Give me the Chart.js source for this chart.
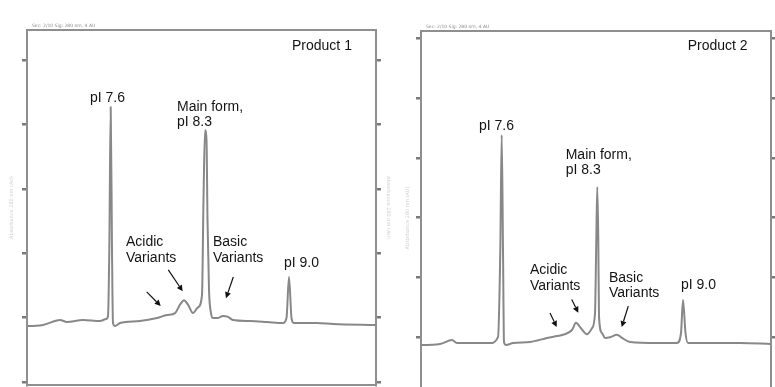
<!DOCTYPE html>
<html>
<head>
<meta charset="utf-8">
<script src="https://cdn.jsdelivr.net/npm/chart.js@4/dist/chart.umd.min.js"></script>
<style>
  html, body { margin: 0; padding: 0; background: #fff; overflow: hidden; width: 775px; height: 387px; }
  .panel { position: absolute; top: 0; }
  #panel1 { left: 0; }
  #panel2 { left: 398px; }
</style>
</head>
<body>
<div class="panel" id="panel1"><canvas id="c1" width="398" height="387"></canvas></div>
<div class="panel" id="panel2"><canvas id="c2" width="377" height="420"></canvas></div>
<script>
// Product 1 trace: position along the capillary and absorbance signal
const p1Pos = [0, 1, 16, 33, 40, 56, 73, 79, 81, 82.3,
  83.7, 85, 86, 88, 93, 113, 130, 140, 148, 153,
  157, 161, 166, 171, 175, 176.5, 178, 179.5, 180.5, 182,
  184, 186, 191, 196, 201, 206, 223, 240, 256, 259.5,
  262, 264.5, 267, 290, 306, 349];
const p1Abs = [8.7, 8.7, 8.85, 9.63, 9.32, 9.63, 9.47, 9.78, 10.25, 20.5,
  42.7, 20.5, 9.16, 8.7, 9.16, 9.47, 9.94, 10.4, 10.7, 12.0,
  12.7, 12.0, 10.7, 11.6, 13.5, 28.3, 39.1, 37.6, 25.2, 14.3,
  10.7, 9.94, 9.94, 10.25, 10.1, 9.63, 9.47, 9.32, 9.16, 9.94,
  16.3, 9.94, 9.16, 9.16, 9.0, 8.85];

// Product 2 trace
const p2Pos = [0, 1, 19, 31, 36, 56, 69, 77, 79.3, 80.7,
  82, 83, 85, 92, 109, 126, 136, 142, 151, 155,
  160, 166, 171, 174, 175.3, 176.3, 177.3, 178, 181, 184,
  189, 196, 201, 209, 236, 256, 260, 262, 264.5, 267,
  286, 319, 350];
const p2Abs = [8.7, 8.7, 8.86, 9.53, 9.03, 9.03, 9.03, 10.0, 24.6, 43.8,
  24.6, 9.2, 8.7, 9.03, 9.2, 9.87, 10.2, 10.4, 11.2, 12.4,
  11.5, 10.5, 11.5, 14.0, 26.3, 35.1, 26.3, 13.4, 10.7, 9.87,
  10.0, 10.4, 9.87, 9.2, 9.03, 9.03, 10.7, 16.2, 10.7, 9.03,
  9.03, 9.03, 8.86];

// Signal axis tick values
const p1Ticks = [0, 10, 20, 30, 40, 50];
const p2Ticks = [0, 10, 20, 30, 40, 50, 60];

// Peak callouts (anchored in data units)
const p1Labels = [
  { lines: ['Product 1'], pos: 265, abs: 52.2 },
  { lines: ['pI 7.6'], pos: 63, abs: 44.1 },
  { lines: ['Main form,', 'pI 8.3'], pos: 150, abs: 42.7 },
  { lines: ['Acidic', 'Variants'], pos: 99, abs: 21.7 },
  { lines: ['Basic', 'Variants'], pos: 186, abs: 21.7 },
  { lines: ['pI 9.0'], pos: 257, abs: 18.5 }
];
const p2Labels = [
  { lines: ['Product 2'], pos: 266.7, abs: 58.7 },
  { lines: ['pI 7.6'], pos: 58, abs: 45.3 },
  { lines: ['Main form,', 'pI 8.3'], pos: 144.7, abs: 40.5 },
  { lines: ['Acidic', 'Variants'], pos: 109, abs: 21.2 },
  { lines: ['Basic', 'Variants'], pos: 188, abs: 19.9 },
  { lines: ['pI 9.0'], pos: 260, abs: 18.7 }
];
// Arrows: [fromPos, fromAbs, toPos, toAbs]
const p1Arrows = [[119.7, 14.0, 133.7, 11.8], [141.3, 17.4, 155.7, 14.1], [206.3, 16.3, 199, 13.0]];
const p2Arrows = [[129, 14.05, 135.7, 11.7], [150.7, 16.3, 157.3, 14.1], [207.3, 15.2, 200.7, 11.7]];

const FRAME = '#8f8f8f';
const TRACE = '#888888';
const TEXT_FONT = '14px "Liberation Sans", Arial, sans-serif';

const annotate = {
  id: 'annotate',
  afterDatasetsDraw(chart, args, opts) {
    const { ctx, chartArea } = chart;
    const x = chart.scales.x, y = chart.scales.y;
    ctx.save();
    // small instrument header above the frame
    ctx.fillStyle = '#8a8a8a';
    ctx.font = '4.5px "DejaVu Sans", sans-serif';
    ctx.textBaseline = 'alphabetic';
    ctx.fillText(opts.header, chartArea.left + 5, chartArea.top - 3);

    ctx.fillStyle = '#141414';
    ctx.font = TEXT_FONT;
    ctx.textBaseline = 'middle';
    ctx.textAlign = 'left';
    opts.labels.forEach(l => {
      const px = x.getPixelForValue(l.pos), py = y.getPixelForValue(l.abs);
      l.lines.forEach((t, i) => ctx.fillText(t, px, py + i * 15.5));
    });

    ctx.strokeStyle = '#111';
    ctx.lineWidth = 1.2;
    opts.arrows.forEach(a => {
      const x1 = x.getPixelForValue(a[0]), y1 = y.getPixelForValue(a[1]);
      const x2 = x.getPixelForValue(a[2]), y2 = y.getPixelForValue(a[3]);
      const ang = Math.atan2(y2 - y1, x2 - x1);
      const hl = 6, hw = 3;
      const bx = x2 - hl * Math.cos(ang), by = y2 - hl * Math.sin(ang);
      ctx.beginPath();
      ctx.moveTo(x1, y1);
      ctx.lineTo(bx, by);
      ctx.stroke();
      ctx.beginPath();
      ctx.moveTo(x2, y2);
      ctx.lineTo(bx + hw * Math.sin(ang), by - hw * Math.cos(ang));
      ctx.lineTo(bx - hw * Math.sin(ang), by + hw * Math.cos(ang));
      ctx.closePath();
      ctx.fillStyle = '#111';
      ctx.fill();
    });
    ctx.restore();
  }
};

function xScale(position, min, max, height) {
  return {
    type: 'linear', position, min, max,
    grid: { display: false },
    border: { display: true, color: FRAME, width: 2 },
    ticks: { display: false },
    afterFit: s => { s.height = height; }
  };
}

function yScale(position, min, max, ticks, width, titlePad, showTitle) {
  return {
    type: 'linear', position, min, max,
    afterBuildTicks: s => { s.ticks = ticks.map(v => ({ value: v })); },
    grid: { display: true, drawOnChartArea: false, drawTicks: true, tickLength: 5, color: '#7a7a7a', lineWidth: 2.5 },
    border: { display: true, color: FRAME, width: 2 },
    ticks: { display: false },
    title: {
      display: showTitle, text: 'Absorbance 280 nm (AU)',
      color: '#cfcfcf', font: { size: 5, family: 'DejaVu Sans' },
      padding: { top: titlePad, bottom: 0 }
    },
    afterFit: s => { s.width = width; }
  };
}

function makeChart(id, pos, abs, cfg) {
  return new Chart(document.getElementById(id), {
    type: 'line',
    data: {
      datasets: [{
        data: pos.map((p, i) => ({ x: p, y: abs[i] })),
        borderColor: TRACE,
        borderWidth: 2,
        pointRadius: 0,
        cubicInterpolationMode: 'monotone',
        borderJoinStyle: 'round',
        fill: false
      }]
    },
    options: {
      responsive: false,
      animation: false,
      events: [],
      layout: { padding: 0 },
      plugins: {
        legend: { display: false },
        tooltip: { enabled: false },
        annotate: { labels: cfg.labels, arrows: cfg.arrows, header: cfg.header }
      },
      scales: {
        x: xScale('bottom', cfg.xMin, cfg.xMax, cfg.bottom),
        x2: xScale('top', cfg.xMin, cfg.xMax, cfg.top),
        y: yScale('left', cfg.yMin, cfg.yMax, cfg.ticks, cfg.left, cfg.leftPad, true),
        y2: yScale('right', cfg.yMin, cfg.yMax, cfg.ticks, cfg.right, cfg.rightPad, cfg.rightTitle)
      }
    },
    plugins: [annotate]
  });
}

makeChart('c1', p1Pos, p1Abs, {
  labels: p1Labels, arrows: p1Arrows, header: 'Sec: 2/10 Sig: 280 nm, 4 AU',
  xMin: 0, xMax: 349, yMin: -0.47, yMax: 54.66, ticks: p1Ticks,
  top: 30, bottom: 2, left: 27, right: 22, leftPad: 9, rightPad: 7, rightTitle: true
});

makeChart('c2', p2Pos, p2Abs, {
  labels: p2Labels, arrows: p2Arrows, header: 'Sec: 2/10 Sig: 280 nm, 4 AU',
  xMin: 0, xMax: 350, yMin: -1.34, yMax: 61.2, ticks: p2Ticks,
  top: 31, bottom: 15, left: 23, right: 4, leftPad: 7, rightPad: 0, rightTitle: false
});
</script>
</body>
</html>
